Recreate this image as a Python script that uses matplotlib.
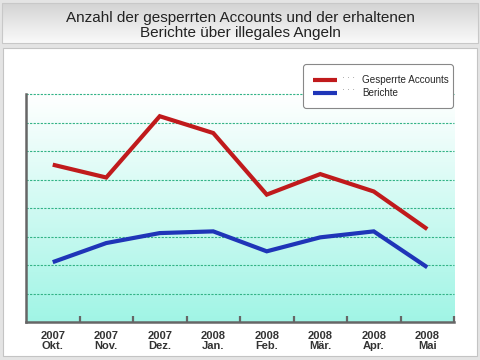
import numpy as np
import matplotlib
matplotlib.use('Agg')
import matplotlib.pyplot as plt
from matplotlib.patches import Rectangle, FancyBboxPatch

# ---- data ----
years = ['2007', '2007', '2007', '2008', '2008', '2008', '2008', '2008']
months = ['Okt.', 'Nov.', 'Dez.', 'Jan.', 'Feb.', 'Mär.', 'Apr.', 'Mai']
gesperrt = [5.52, 5.07, 7.22, 6.63, 4.47, 5.19, 4.58, 3.26]
berichte = [2.10, 2.77, 3.12, 3.18, 2.48, 2.97, 3.18, 1.92]
series_names = ['Gesperrte Accounts', 'Berichte']
title = 'Anzahl der gesperrten Accounts und der erhaltenen\nBerichte über illegales Angeln'

RED = '#c01a1c'
BLUE = '#1f35b8'
FONT = ['Liberation Sans', 'DejaVu Sans']

W, H = 480, 360
fig = plt.figure(figsize=(4.8, 3.6), dpi=100)

# ---- background frame (pixel coordinates) ----
bg = fig.add_axes([0, 0, 1, 1], zorder=-10)
bg.axis('off')
bg.add_patch(Rectangle((0, 0), W, H, color='#e4e4e4', zorder=0))
grad = np.linspace(0, 1, 60)[:, None, None]
top = np.array([0.83, 0.83, 0.83])
bot = np.array([0.98, 0.98, 0.98])
img = top + (bot - top) * grad
bg.imshow(img, extent=[2, W - 2, 43, 3], aspect='auto', interpolation='bilinear', zorder=2)
bg.add_patch(Rectangle((2, 3), W - 4, 40, fill=False, ec='#c8c8c8', lw=0.8, zorder=3))
bg.add_patch(Rectangle((2.5, 47.5), W - 6, 308, fc='white', ec='#c4c4c4', lw=0.8, zorder=3))
bg.set_xlim(0, W)
bg.set_ylim(H, 0)

fig.text(0.5, 1 - 25.5 / H, title, ha='center', va='center', fontsize=11,
         color='#222222', family=FONT, linespacing=1.1)

# ---- plot axes ----
ax = fig.add_axes([26 / W, 1 - 322 / H, (454 - 26) / W, (322 - 94) / H])
x = np.arange(len(months))

g = np.linspace(0, 1, 100)[:, None, None]
c_top = np.array([1.0, 1.0, 1.0])
c_bot = np.array([0.63, 0.96, 0.90])
gimg = c_top + (c_bot - c_top) * g
ax.imshow(gimg, extent=[-0.5, len(months) - 0.5, 0, 8], aspect='auto',
          interpolation='bilinear', zorder=0)
ax.set_xlim(-0.5, len(months) - 0.5)
ax.set_ylim(0, 8)

for yv in range(1, 9):
    ax.axhline(yv, color='#33b386', lw=0.8, ls=(0, (2.0, 1.2)), zorder=1, clip_on=False)

ax.plot(x, gesperrt, color=RED, lw=3.0, zorder=3, solid_joinstyle='miter', solid_capstyle='butt')
ax.plot(x, berichte, color=BLUE, lw=3.0, zorder=3, solid_joinstyle='miter', solid_capstyle='butt')

for s in ['top', 'right']:
    ax.spines[s].set_visible(False)
for s in ['left', 'bottom']:
    ax.spines[s].set_color('#666666')
    ax.spines[s].set_linewidth(1.8)

ax.set_yticks([])
ax.set_xticks(np.arange(len(months)) + 0.5)
ax.set_xticklabels([])
ax.tick_params(axis='x', direction='in', length=4, width=1.6, color='#666666')
for xi, (yy, mm) in enumerate(zip(years, months)):
    ax.text(xi, -0.33, yy + '\n' + mm, ha='center', va='top', fontsize=8,
            fontweight='bold', color='#333333', family=FONT, linespacing=1.0,
            clip_on=False)

# ---- legend (manual overlay, pixel coords) ----
ov = fig.add_axes([0, 0, 1, 1], zorder=10)
ov.axis('off')
ov.patch.set_alpha(0)
ov.add_patch(FancyBboxPatch((303.5, 64.5), 150, 44, boxstyle='round,pad=0,rounding_size=3',
                            fc='white', ec='#888888', lw=0.8, zorder=5))
for i, (name, col) in enumerate(zip(series_names, [RED, BLUE])):
    yy = 80 + i * 13
    ov.plot([313, 337], [yy, yy], color=col, lw=3.0, zorder=6, solid_capstyle='butt')
    ov.text(349, yy - 2, '· · ·', ha='center', va='center', fontsize=6,
            color='#888888', family=FONT, zorder=6)
    ov.text(362, yy, name, ha='left', va='center', fontsize=7.1,
            color='#262626', family=FONT, zorder=6)
ov.set_xlim(0, W)
ov.set_ylim(H, 0)

fig.savefig('out.png', dpi=100)
